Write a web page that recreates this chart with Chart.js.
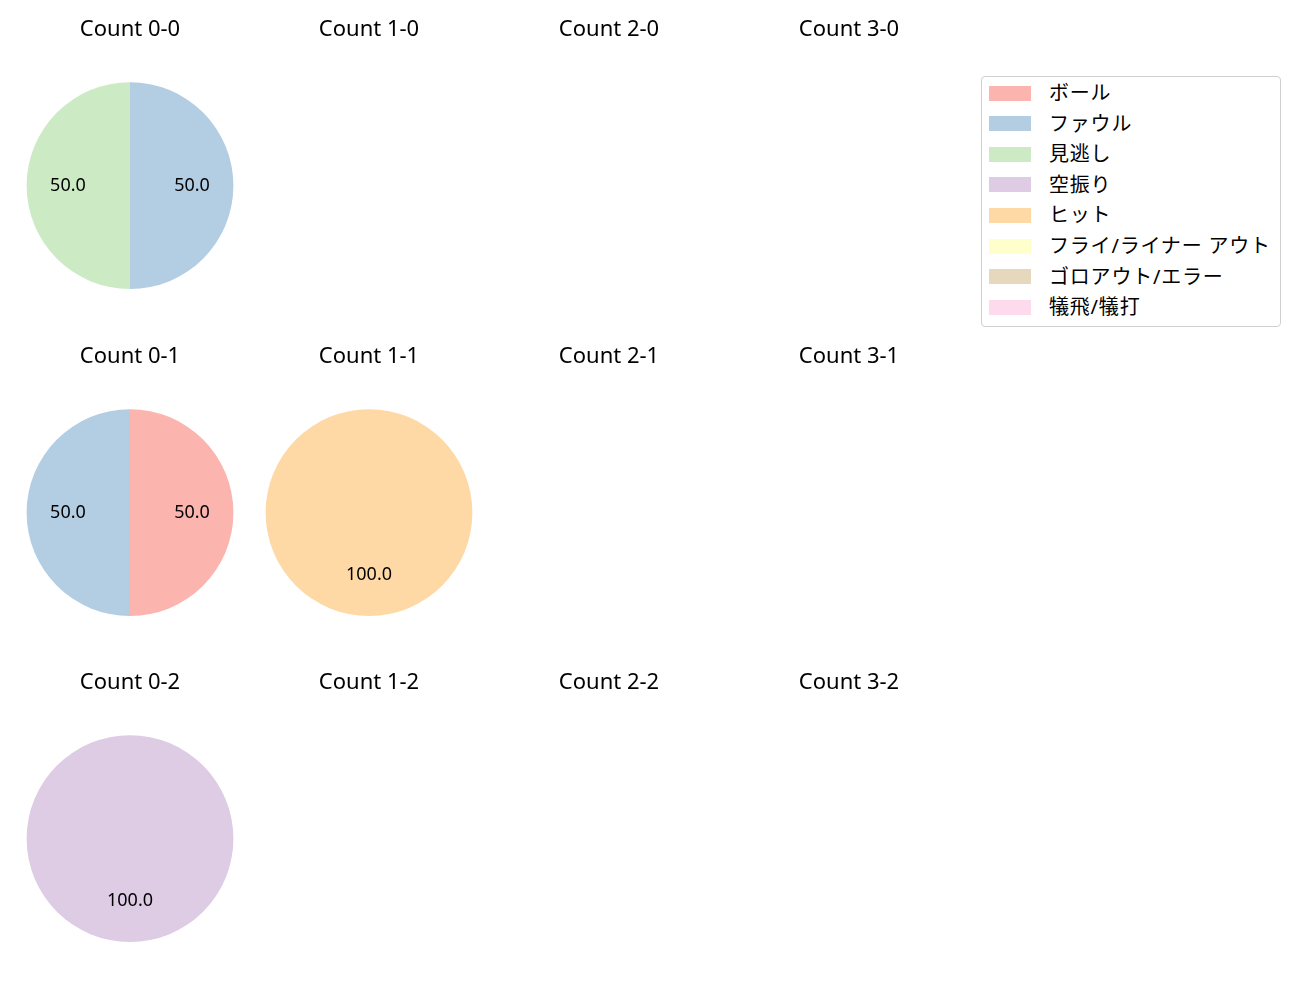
<!DOCTYPE html>
<html>
<head>
<meta charset="utf-8">
<script src="https://cdn.jsdelivr.net/npm/chart.js@4/dist/chart.umd.min.js"></script>
<style>
  body { margin: 0; background: #fff; font-family: "Noto Sans", "Noto Sans CJK JP", sans-serif; }
  #wrap { position: relative; width: 1300px; height: 1000px; }
  .cell { position: absolute; width: 240px; height: 300px; }
  #legend { position: absolute; left: 981px; top: 76px; width: 298px; height: 249px;
            border: 1px solid #d0d0d0; border-radius: 4px; background: #fff; }
  .item { position: absolute; left: 7px; height: 20px; font-size: 20px; line-height: 20px; color: #000; white-space: nowrap; letter-spacing: 0.8px; }
  .sw { display: inline-block; width: 42px; height: 15px; vertical-align: middle; margin-right: 18px; margin-top: -3px; }
</style>
</head>
<body>
<div id="wrap">
  <div id="legend"></div>
</div>
<script>
// outcome categories and colours
const categories = ['ボール', 'ファウル', '見逃し', '空振り', 'ヒット', 'フライ/ライナー アウト', 'ゴロアウト/エラー', '犠飛/犠打'];
const colors = ['#fbb4ae', '#b3cde3', '#ccebc5', '#decbe4', '#fed9a6', '#ffffcc', '#e5d8bd', '#fddaec'];

// counts, laid out row by row (balls-strikes)
const counts = ['0-0', '1-0', '2-0', '3-0', '0-1', '1-1', '2-1', '3-1', '0-2', '1-2', '2-2', '3-2'];
const values = [
  [0, 50, 50, 0, 0, 0, 0, 0],
  [0, 0, 0, 0, 0, 0, 0, 0],
  [0, 0, 0, 0, 0, 0, 0, 0],
  [0, 0, 0, 0, 0, 0, 0, 0],
  [50, 50, 0, 0, 0, 0, 0, 0],
  [0, 0, 0, 0, 100, 0, 0, 0],
  [0, 0, 0, 0, 0, 0, 0, 0],
  [0, 0, 0, 0, 0, 0, 0, 0],
  [0, 0, 0, 100, 0, 0, 0, 0],
  [0, 0, 0, 0, 0, 0, 0, 0],
  [0, 0, 0, 0, 0, 0, 0, 0],
  [0, 0, 0, 0, 0, 0, 0, 0]
];

const FONT = '"Noto Sans", "Noto Sans CJK JP", sans-serif';

// percentage labels at 0.6 radius
const pctLabels = {
  id: 'pctLabels',
  afterDatasetsDraw(chart) {
    const meta = chart.getDatasetMeta(0);
    const data = chart.data.datasets[0].data;
    const total = data.reduce((a, b) => a + b, 0);
    if (!total) return;
    const c = chart.ctx;
    c.save();
    c.font = '18px ' + FONT;
    c.fillStyle = '#000';
    c.textAlign = 'center';
    c.textBaseline = 'middle';
    meta.data.forEach((arc, i) => {
      if (!data[i]) return;
      const p = arc.getProps(['x', 'y', 'startAngle', 'endAngle', 'outerRadius'], true);
      const mid = (p.startAngle + p.endAngle) / 2;
      const r = p.outerRadius * 0.6;
      c.fillText((data[i] / total * 100).toFixed(1), p.x + Math.cos(mid) * r, p.y + Math.sin(mid) * r);
    });
    c.restore();
  }
};

const colX = [129.5, 369.3, 609, 849];
const rowY = [0, 326.5, 653];
const wrap = document.getElementById('wrap');

counts.forEach((cnt, k) => {
  const div = document.createElement('div');
  div.className = 'cell';
  div.style.left = (colX[k % 4] - 120) + 'px';
  div.style.top = rowY[Math.floor(k / 4)] + 'px';
  const cv = document.createElement('canvas');
  cv.width = 240;
  cv.height = 300;
  cv.style.width = '240px';
  cv.style.height = '300px';
  div.appendChild(cv);
  wrap.appendChild(div);
  new Chart(cv, {
    type: 'pie',
    data: {
      labels: categories,
      datasets: [{
        data: values[k],
        backgroundColor: colors,
        borderWidth: 0
      }]
    },
    options: {
      responsive: false,
      animation: false,
      maintainAspectRatio: false,
      layout: { padding: { bottom: 11 } },
      plugins: {
        legend: { display: false },
        tooltip: { enabled: false },
        title: {
          display: true,
          text: 'Count ' + cnt,
          color: '#000',
          font: { size: 22, weight: 'normal', family: FONT },
          padding: { top: 16.5, bottom: 39.3 }
        }
      }
    },
    plugins: [pctLabels]
  });
});

// legend
const lg = document.getElementById('legend');
categories.forEach((name, i) => {
  const it = document.createElement('div');
  it.className = 'item';
  it.style.top = (6 + i * 30.6) + 'px';
  it.innerHTML = '<span class="sw" style="background:' + colors[i] + '"></span>' + name;
  lg.appendChild(it);
});
</script>
</body>
</html>
